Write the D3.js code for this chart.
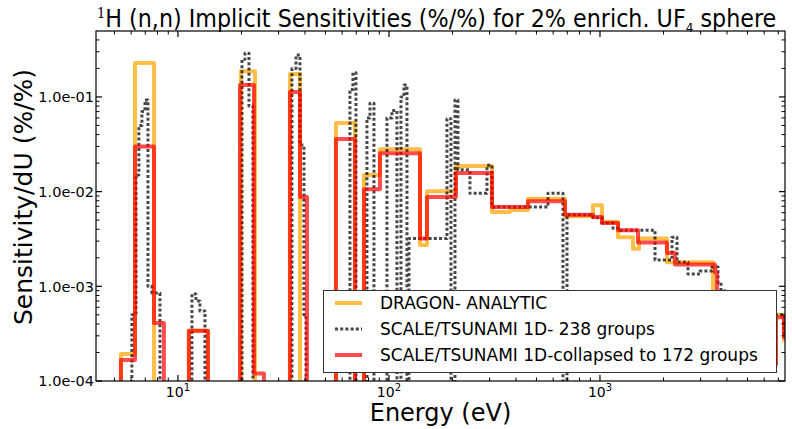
<!DOCTYPE html>
<html><head><meta charset="utf-8">
<script src="https://cdn.jsdelivr.net/npm/d3@7"></script>
<style>body{margin:0;background:#fff}svg{display:block}text{font-family:"DejaVu Sans",sans-serif;fill:#000}</style>
</head><body><svg id="c" width="792" height="429"></svg>
<script>
// ---------- data (energy bin edges in eV, sensitivity per unit lethargy) ----------
const dragonEdges = [5.37, 6.26, 7.70, 11.27, 13.87, 19.89, 23.17, 33.95, 37.87, 56.08, 69.0, 76.14, 90.64, 140.3, 151.4, 207.7, 307.7, 374.6, 456.0, 682.6, 926.6, 1022, 1217, 1434, 1531, 2077, 3432, 6825, 7447, 8873];
const dragonValues = [1.93e-4, 0.228, 0, 3.4e-4, 0, 0.187, 0, 0.175, 0, 0.053, 0, 0.015, 0.028, 2.73e-3, 0.0101, 0.0186, 6.1e-3, 6.4e-3, 8.4e-3, 5.5e-3, 7.2e-3, 4.8e-3, 3.3e-3, 2.5e-3, 3.2e-3, 1.8e-3, 1.5e-4, 5e-4, 2.7e-4];

const scale238Edges = [6.05, 6.33, 6.53, 6.75, 6.98, 7.21, 7.53, 8.22, 11.65, 12.17, 12.71, 13.43, 20.11, 20.78, 21.71, 22.67, 34.70, 36.25, 37.87, 39.56, 40.44, 65.33, 67.50, 69.76, 78.65, 81.28, 84.90, 97.84, 103.3, 109.1, 114.0, 117.8, 121.7, 124.4, 188.3, 196.7, 205.5, 212.3, 242.0, 291.4, 307.7, 567.1, 667.9, 697.7, 926.6, 1022, 1153, 1244, 1823, 2194, 2317, 2613, 2978, 3395, 3625, 3745, 3912, 6533, 7447, 8873];
const scale238Values = [5e-4, 0.015, 0.05, 0.07, 0.093, 1.0e-3, 8.5e-4, 0, 8.3e-4, 7e-4, 5.5e-4, 0, 0.25, 0.29, 0.08, 0, 0.2, 0.277, 0.031, 5e-4, 0, 0.12, 0.18, 0, 0.06, 0.086, 0, 0.06, 0.072, 0, 0.1, 0.134, 0, 3.2e-3, 0.059, 0, 0.093, 0.017, 9.6e-3, 0.019, 6.9e-3, 9.6e-3, 0, 5.7e-3, 5.3e-3, 4.65e-3, 4.1e-3, 3.9e-3, 1.9e-3, 3.3e-3, 1.8e-3, 1.35e-3, 1.45e-3, 1.6e-3, 1.1e-3, 9e-4, 2e-4, 5e-4, 3e-4];

const scale172Edges = [5.37, 6.26, 7.70, 8.58, 11.27, 13.87, 19.67, 22.92, 25.56, 33.95, 37.87, 40.88, 56.08, 69.0, 76.14, 90.64, 140.3, 151.4, 207.7, 307.7, 456.0, 682.6, 926.6, 1022, 1217, 1514, 2077, 2267, 3508, 3585, 6825, 7447, 8873];
const scale172Values = [1.67e-4, 0.030, 4.1e-4, 0, 3.4e-4, 0, 0.134, 1.2e-4, 0, 0.113, 8.8e-3, 0, 0.036, 0, 0.0106, 0.0255, 3.2e-3, 8.8e-3, 0.0157, 6.9e-3, 7.9e-3, 5.7e-3, 5.4e-3, 4.65e-3, 3.9e-3, 2.9e-3, 2.25e-3, 1.7e-3, 1.4e-3, 1.5e-4, 4.7e-4, 2.9e-4];

const seriesNames = ["DRAGON- ANALYTIC", "SCALE/TSUNAMI 1D- 238 groups", "SCALE/TSUNAMI 1D-collapsed to 172 groups"];
const yTickValues = [1e-4, 1e-3, 1e-2, 1e-1];
const xTickValues = [10, 100, 1000];
const xDomain = [4.09, 7530];
const yDomain = [1e-4, 0.497];

// ---------- layout ----------
const L = 96, R = 785, T = 31, B = 381;
const svg = d3.select("#c");
const x = d3.scaleLog().domain(xDomain).range([L, R]);
const y = d3.scaleLog().domain(yDomain).range([B, T]);

svg.append("defs").append("clipPath").attr("id", "clip")
  .append("rect").attr("x", L).attr("y", T).attr("width", R - L).attr("height", B - T);

const FLOOR = 1e-6;
function stepPoints(edges, vals) {
  const pts = [[edges[0], FLOOR]];
  vals.forEach((v, i) => {
    const vv = v > 0 ? v : FLOOR;
    pts.push([edges[i], vv], [edges[i + 1], vv]);
  });
  return pts;
}
const line = d3.line().x(d => x(d[0])).y(d => y(d[1]));
const g = svg.append("g").attr("clip-path", "url(#clip)");

const styles = [
  {stroke: "orange", width: 4, opacity: 0.72, dash: null},
  {stroke: "#000", width: 3, opacity: 0.72, dash: "3,2.2"},
  {stroke: "red", width: 4, opacity: 0.7, dash: null}
];
const data = [[dragonEdges, dragonValues], [scale238Edges, scale238Values], [scale172Edges, scale172Values]];
data.forEach((d, i) => {
  const s = styles[i];
  g.append("path").attr("d", line(stepPoints(d[0], d[1])))
    .attr("fill", "none").attr("stroke", s.stroke).attr("stroke-width", s.width)
    .attr("stroke-opacity", s.opacity).attr("stroke-linejoin", "round")
    .attr("stroke-dasharray", s.dash);
});

// ---------- axes ----------
function minorTicks(domain) {
  const out = [];
  for (let d = Math.floor(Math.log10(domain[0])); d <= Math.ceil(Math.log10(domain[1])); d++)
    for (let k = 2; k <= 9; k++) { const v = k * Math.pow(10, d); if (v >= domain[0] && v <= domain[1]) out.push(v); }
  return out;
}
const xMinor = minorTicks(xDomain), yMinor = minorTicks(yDomain);
const fmtY = v => { const [m, e] = v.toExponential(1).split("e"); return m + "e" + e[0] + e.slice(1).padStart(2, "0"); };

const ax = svg.append("g").attr("stroke", "#000");
const MAJ = 6, MIN = 3.5;
xTickValues.forEach(v => {
  ax.append("line").attr("x1", x(v)).attr("x2", x(v)).attr("y1", B).attr("y2", B - MAJ).attr("stroke-width", 1.2);
  ax.append("line").attr("x1", x(v)).attr("x2", x(v)).attr("y1", T).attr("y2", T + MAJ).attr("stroke-width", 1.2);
});
xMinor.forEach(v => {
  ax.append("line").attr("x1", x(v)).attr("x2", x(v)).attr("y1", B).attr("y2", B - MIN).attr("stroke-width", 1);
  ax.append("line").attr("x1", x(v)).attr("x2", x(v)).attr("y1", T).attr("y2", T + MIN).attr("stroke-width", 1);
});
yTickValues.forEach(v => {
  ax.append("line").attr("x1", L).attr("x2", L + MAJ).attr("y1", y(v)).attr("y2", y(v)).attr("stroke-width", 1.2);
  ax.append("line").attr("x1", R).attr("x2", R - MAJ).attr("y1", y(v)).attr("y2", y(v)).attr("stroke-width", 1.2);
});
yMinor.forEach(v => {
  ax.append("line").attr("x1", L).attr("x2", L + MIN).attr("y1", y(v)).attr("y2", y(v)).attr("stroke-width", 1);
  ax.append("line").attr("x1", R).attr("x2", R - MIN).attr("y1", y(v)).attr("y2", y(v)).attr("stroke-width", 1);
});
ax.append("rect").attr("x", L).attr("y", T).attr("width", R - L).attr("height", B - T)
  .attr("fill", "none").attr("stroke-width", 1.2);

// tick labels
yTickValues.forEach(v => {
  svg.append("text").attr("x", L - 2).attr("y", y(v)).attr("dy", "0.36em")
    .attr("text-anchor", "end").style("font-size", "14.5px").text(fmtY(v));
});
xTickValues.forEach(v => {
  const t = svg.append("text").attr("x", x(v)).attr("y", 397).attr("text-anchor", "middle").style("font-size", "14px");
  t.append("tspan").text("10");
  t.append("tspan").attr("dy", -6).style("font-size", "10px").text(Math.round(Math.log10(v)));
});

// axis titles
svg.append("text").attr("x", (L + R) / 2).attr("y", 421).attr("text-anchor", "middle")
  .style("font-size", "24px").text("Energy (eV)");
svg.append("text").attr("transform", "translate(32,197) rotate(-90)").attr("text-anchor", "middle")
  .style("font-size", "25px").text("Sensitivity/dU (%/%)");

// title (horizontally fitted)
const tg = svg.append("g");
const tt = tg.append("text").attr("x", 0).attr("y", 0).style("font-size", "24px");
tt.append("tspan").attr("dy", -9).style("font-size", "14px").style("font-family", "'DejaVu Serif',serif").text("1");
tt.append("tspan").attr("dy", 9).text("H (n,n) Implicit Sensitivities (%/%) for 2% enrich. UF");
tt.append("tspan").attr("dy", 5).style("font-size", "13px").text("4");
tt.append("tspan").attr("dy", -5).text(" sphere");
const bb = tt.node().getBBox();
const sx = 680 / bb.width;
tg.attr("transform", `translate(${97 - bb.x * sx},27) scale(${sx},1)`);

// legend
const lg = svg.append("g");
lg.append("rect").attr("x", 323.5).attr("y", 290.5).attr("width", 453).attr("height", 82)
  .attr("fill", "#fff").attr("stroke", "#333").attr("stroke-width", 1);
const rows = [303, 329, 355];
seriesNames.forEach((n, i) => {
  const s = styles[i];
  lg.append("line").attr("x1", 335).attr("x2", 362).attr("y1", rows[i]).attr("y2", rows[i])
    .attr("stroke", s.stroke).attr("stroke-width", s.width).attr("stroke-opacity", s.opacity)
    .attr("stroke-dasharray", s.dash);
  lg.append("text").attr("x", 380).attr("y", rows[i]).attr("dy", "0.36em")
    .style("font-size", "17px").text(n);
});
</script></body></html>
